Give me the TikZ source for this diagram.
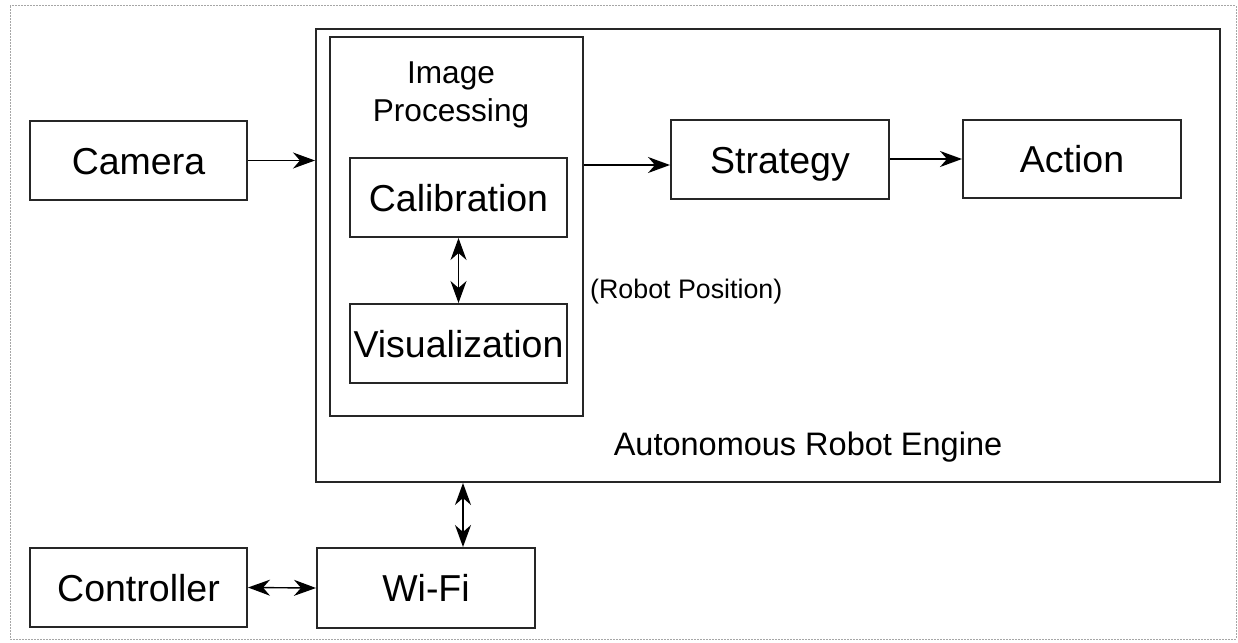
\documentclass[tikz,border=0pt]{standalone}
\usepackage{fontspec}
\setmainfont{Liberation Sans}
\usetikzlibrary{arrows.meta,calc}
\begin{document}
\begin{tikzpicture}[x=1pt,y=-1pt,
  box/.style={draw=black!85,line width=2pt,rectangle,inner sep=0pt,text height=27pt,text depth=0pt,font=\fontsize{37.5}{45}\selectfont},
  arr/.style={line width=1.4pt,-{Stealth[length=22pt,width=16pt,inset=7pt]}},
  darr/.style={line width=1.4pt,{Stealth[length=22pt,width=16pt,inset=7pt]}-{Stealth[length=22pt,width=16pt,inset=7pt]}}
]
\useasboundingbox (0,0) rectangle (1238,642);
\draw[gray!70,line width=1pt,dash pattern=on 2pt off 1pt] (10,6) rectangle (1236,639);

\node[box,minimum width=904pt,minimum height=453pt] (engine) at (768,255.5) {};
\node[box,minimum width=253pt,minimum height=379pt] (ip) at (456.5,226.5) {};
\node[font=\fontsize{31.6}{38}\selectfont,align=center] (iplabel) at (451,95) {Image\\Processing};
\node[box,minimum width=217pt,minimum height=79pt] (camera) at (138.5,160.5) {Camera};
\node[box,minimum width=217pt,minimum height=79pt] (cal) at (458.5,197.5) {Calibration};
\node[box,minimum width=217pt,minimum height=79pt] (vis) at (458.5,343.5) {Visualization};
\node[box,minimum width=218pt,minimum height=79pt] (strategy) at (780,159.5) {Strategy};
\node[box,minimum width=218pt,minimum height=78pt] (action) at (1072,159) {Action};
\node[box,minimum width=217pt,minimum height=79pt] (ctrl) at (138.5,587.5) {Controller};
\node[box,minimum width=218pt,minimum height=80pt] (wifi) at (426,588) {Wi-Fi};
\node[font=\fontsize{26.8}{32}\selectfont,anchor=west,inner sep=0pt] (robpos) at (590,292) {(Robot Position)};
\node[font=\fontsize{32.5}{39}\selectfont] (englabel) at (808,447) {Autonomous Robot Engine};

\draw[arr] (camera.east) -- (camera.east -| engine.west);
\draw[arr] ([yshift=-5.5pt]ip.east |- strategy.west) -- ([yshift=-5.5pt]strategy.west);
\draw[arr] (strategy.east |- action.west) -- (action.west);
\draw[darr] (cal.south) -- (vis.north);
\draw[darr] ([xshift=37pt]wifi.north |- engine.south) -- ([xshift=37pt]wifi.north);
\draw[darr] (ctrl.east) -- (wifi.west);
\end{tikzpicture}
\end{document}
